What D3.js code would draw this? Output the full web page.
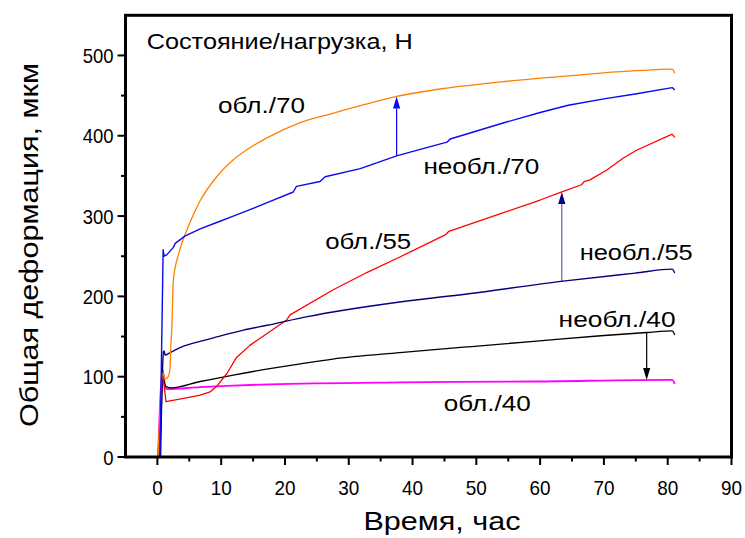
<!DOCTYPE html>
<html>
<head>
<meta charset="utf-8">
<script src="https://cdn.jsdelivr.net/npm/d3@7/dist/d3.min.js"></script>
<style>
  html, body { margin: 0; padding: 0; background: #fff; }
  svg { display: block; font-family: "Liberation Sans", Arial, sans-serif; }
</style>
</head>
<body>
<svg id="chart" width="745" height="538"></svg>
<script>
// Creep curves: time (h) vs total deformation (µm), by state / load (N)
const timeIrr70 = [0.1, 0.9, 1.2, 1.7, 2.0, 2.1, 2.25, 2.5, 3.3, 4.1, 5.1, 6.7, 9.3, 11.9, 14.5, 17.1, 22.3, 27.5, 32.5, 37.5, 45, 53.8, 62, 69.5, 75, 80.7, 81.1];
const defIrr70  = [0, 105, 97, 100, 112, 137, 158, 220, 252, 272, 292, 319, 349, 370, 385, 397, 416, 428, 439, 449, 459, 467, 473, 478, 481, 483, 478];

const timeRef70 = [0.4, 0.9, 1.05, 1.5, 2.5, 2.8, 4.3, 6.7, 9.3, 11.9, 14.5, 17.6, 21.3, 21.8, 25.5, 26.3, 31.8, 37.5, 41.2, 45.4, 45.9, 53.8, 60, 64.4, 70, 74.9, 80.7, 81.1];
const defRef70  = [0, 258, 250, 252, 261, 266, 275, 284, 292, 300, 308, 318, 330, 337, 343, 349, 359, 375, 383, 392, 396, 415, 429, 438, 446, 452, 460, 457];

const timeIrr55 = [0.1, 0.8, 1.35, 4.1, 6.7, 8.25, 9.3, 10.9, 12.4, 14.5, 17.6, 20.3, 20.8, 27.5, 32.9, 38, 45.2, 45.7, 53.8, 60, 63.4, 66.5, 66.9, 67.8, 70.4, 73, 75.1, 80.7, 81.1];
const defIrr55  = [0, 106, 69, 73, 77, 81, 88, 104, 124, 139, 156, 171, 177, 208, 230, 249, 277, 281, 303, 320, 330, 339, 343, 345, 357, 372, 382, 402, 398];

const timeRef55 = [0.5, 0.95, 1.05, 1.2, 2.0, 4.1, 6.7, 9.3, 13.5, 17.2, 22.4, 27.5, 38, 48.5, 63.6, 74.9, 80.7, 81.1];
const defRef55  = [0, 131, 132, 127, 130, 138, 144, 149.5, 158, 164, 173, 180.5, 193, 203, 219, 229, 234, 229];

const timeRef40 = [0.4, 0.9, 1.3, 2.2, 6.7, 11.9, 17.6, 22.4, 27.5, 38, 48.5, 59, 69.5, 76.7, 80.7, 81.1];
const defRef40  = [0, 98, 88, 86, 94, 102, 110, 116, 122, 130, 137, 144, 151, 155, 157, 152];

const timeIrr40 = [0.1, 0.83, 1.2, 1.45, 6.7, 11.9, 17.6, 38, 59, 80.7, 81.1];
const defIrr40  = [0, 108, 88, 84.5, 87, 89, 90.5, 93, 94, 96, 91];

const xMajorTicks = [0, 10, 20, 30, 40, 50, 60, 70, 80, 90];
const xMinorTicks = [5, 15, 25, 35, 45, 55, 65, 75, 85];
const yMajorTicks = [0, 100, 200, 300, 400, 500];
const yMinorTicks = [50, 150, 250, 350, 450];

const xTitle = "Время, час";
const yTitle = "Общая деформация, мкм";
const legendTitle = "Состояние/нагрузка, Н";

// series table built from the arrays above (drawing order);
// curves with small creep steps are drawn straight so the steps stay sharp
const series = [
  { name: "обл./40",   t: timeIrr40, d: defIrr40, color: "#FF00FF", w: 1.8, smooth: true },
  { name: "необл./40", t: timeRef40, d: defRef40, color: "#000000", w: 1.3, smooth: true },
  { name: "обл./55",   t: timeIrr55, d: defIrr55, color: "#FF0000", w: 1.3, smooth: false },
  { name: "необл./55", t: timeRef55, d: defRef55, color: "#000080", w: 1.4, smooth: true },
  { name: "обл./70",   t: timeIrr70, d: defIrr70, color: "#FF8000", w: 1.3, smooth: true },
  { name: "необл./70", t: timeRef70, d: defRef70, color: "#0A0AF0", w: 1.4, smooth: false }
];

// arrows between the paired curves: time, start value, end value
const arrowTimes  = [37.5, 63.4, 76.7];
const arrowFrom   = [375, 219, 155];
const arrowTo     = [449, 330, 96];
const arrowColors = ["#0A0AF0", "#000080", "#000000"];

const svg = d3.select("#chart");
const x = d3.scaleLinear().domain([-5, 90]).range([125.5, 731.5]);
const y = d3.scaleLinear().domain([0, 550]).range([457, 15.3]);

// curves
const lineSmooth = d3.line().x(p => x(p[0])).y(p => y(p[1])).curve(d3.curveMonotoneX);
const lineStraight = d3.line().x(p => x(p[0])).y(p => y(p[1])).curve(d3.curveLinear);

svg.append("g").selectAll("path")
  .data(series)
  .join("path")
  .attr("fill", "none")
  .attr("stroke", s => s.color)
  .attr("stroke-width", s => s.w)
  .attr("stroke-linejoin", "round")
  .attr("d", s => (s.smooth ? lineSmooth : lineStraight)(s.t.map((tv, i) => [tv, s.d[i]])));

// arrows
const arrows = svg.append("g");
arrowTimes.forEach((tv, i) => {
  const ax = x(tv), y0 = y(arrowFrom[i]), y1 = y(arrowTo[i]);
  const dir = y1 < y0 ? 1 : -1;   // +1 when pointing up on screen
  const headLen = 12, headHalf = 3.6;
  arrows.append("line")
    .attr("x1", ax).attr("x2", ax)
    .attr("y1", y0).attr("y2", y1 + dir * headLen)
    .attr("stroke", arrowColors[i])
    .attr("stroke-width", i === 1 ? 1 : 1.2)
    .attr("stroke-opacity", i === 1 ? 0.75 : 1);
  arrows.append("path")
    .attr("d", `M${ax},${y1} L${ax - headHalf},${y1 + dir * headLen} L${ax + headHalf},${y1 + dir * headLen} Z`)
    .attr("fill", arrowColors[i]);
});

// frame
svg.append("rect")
  .attr("x", x(-5)).attr("y", y(550))
  .attr("width", x(90) - x(-5)).attr("height", y(0) - y(550))
  .attr("fill", "none").attr("stroke", "#000").attr("stroke-width", 3);

// narrow tick-label lettering
function condense(sel, k) {
  sel.each(function () {
    const w = this.getComputedTextLength();
    d3.select(this).attr("textLength", w * k).attr("lengthAdjust", "spacingAndGlyphs");
  });
}

// x axis
const xAxis = svg.append("g").attr("transform", `translate(0,${y(0)})`);
xAxis.selectAll("line.maj").data(xMajorTicks).join("line")
  .attr("x1", d => x(d)).attr("x2", d => x(d))
  .attr("y1", 0).attr("y2", 8)
  .attr("stroke", "#000").attr("stroke-width", 2);
xAxis.selectAll("line.min").data(xMinorTicks).join("line")
  .attr("x1", d => x(d)).attr("x2", d => x(d))
  .attr("y1", 0).attr("y2", 4.5)
  .attr("stroke", "#000").attr("stroke-width", 2);
xAxis.selectAll("text").data(xMajorTicks).join("text")
  .attr("x", d => x(d)).attr("y", 38)
  .attr("text-anchor", "middle")
  .attr("font-size", 21)
  .text(d => d)
  .call(condense, 0.9);

// y axis
const yAxis = svg.append("g").attr("transform", `translate(${x(-5)},0)`);
yAxis.selectAll("line.maj").data(yMajorTicks).join("line")
  .attr("x1", 0).attr("x2", -8)
  .attr("y1", d => y(d)).attr("y2", d => y(d))
  .attr("stroke", "#000").attr("stroke-width", 2);
yAxis.selectAll("line.min").data(yMinorTicks).join("line")
  .attr("x1", 0).attr("x2", -4.5)
  .attr("y1", d => y(d)).attr("y2", d => y(d))
  .attr("stroke", "#000").attr("stroke-width", 2);
yAxis.selectAll("text").data(yMajorTicks).join("text")
  .attr("x", -12).attr("y", d => y(d))
  .attr("dy", "0.36em")
  .attr("text-anchor", "end")
  .attr("font-size", 21)
  .text(d => d)
  .call(condense, 0.88);

// axis titles
svg.append("text")
  .attr("x", 442).attr("y", 530)
  .attr("text-anchor", "middle")
  .attr("font-size", 25)
  .attr("textLength", 157).attr("lengthAdjust", "spacingAndGlyphs")
  .text(xTitle);
svg.append("text")
  .attr("transform", "translate(38,245) rotate(-90)")
  .attr("text-anchor", "middle")
  .attr("font-size", 25)
  .attr("textLength", 364).attr("lengthAdjust", "spacingAndGlyphs")
  .text(yTitle);

// in-plot labels, placed in data coordinates (time, deformation)
function label(txt, tv, dv, width) {
  svg.append("text")
    .attr("x", x(tv)).attr("y", y(dv))
    .attr("font-size", 22)
    .attr("textLength", width).attr("lengthAdjust", "spacingAndGlyphs")
    .text(txt);
}
label(legendTitle, -1.67, 508, 266);
label("обл./70", 9.5, 428, 87);
label("необл./70", 41.7, 352, 116);
label("обл./55", 26.3, 259, 86);
label("необл./55", 66.2, 245, 113);
label("необл./40", 62.9, 162, 117);
label("обл./40", 44.9, 57, 87);
</script>
</body>
</html>
